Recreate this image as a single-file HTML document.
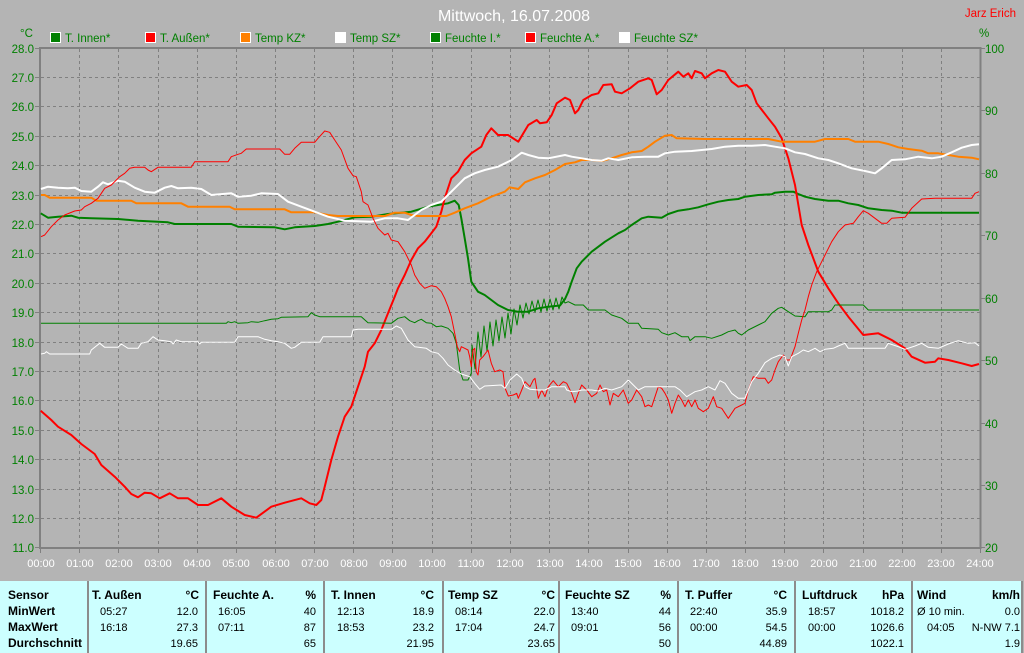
<!DOCTYPE html>
<html><head><meta charset="utf-8"><style>
html,body{margin:0;padding:0;background:#b4b4b4;}
body{width:1024px;height:653px;overflow:hidden;}
svg{display:block;font-family:"Liberation Sans",Arial,sans-serif;}
</style></head><body>
<svg width="1024" height="653" viewBox="0 0 1024 653" xmlns="http://www.w3.org/2000/svg">
<rect x="0" y="0" width="1024" height="653" fill="#b4b4b4"/>
<!-- title -->
<text x="514" y="21" font-size="16" fill="#ffffff" text-anchor="middle">Mittwoch, 16.07.2008</text>
<text x="1016" y="17" font-size="11.5" fill="#ff0000" text-anchor="end">Jarz Erich</text>
<!-- legend -->
<g font-size="11.5" fill="#008000">
<text x="20" y="37">°C</text>
<text x="979" y="37">%</text>
<rect x="50.5" y="32.5" width="10" height="10" fill="#008000" stroke="#fff" stroke-width="1"/><text x="65" y="42">T. Innen*</text>
<rect x="145.5" y="32.5" width="10" height="10" fill="#ff0000" stroke="#fff" stroke-width="1"/><text x="160" y="42">T. Außen*</text>
<rect x="240.5" y="32.5" width="10" height="10" fill="#ff8000" stroke="#fff" stroke-width="1"/><text x="255" y="42">Temp KZ*</text>
<rect x="335.5" y="32.5" width="10" height="10" fill="#ffffff" stroke="#fff" stroke-width="1"/><text x="350" y="42">Temp SZ*</text>
<rect x="430.5" y="32.5" width="10" height="10" fill="#008000" stroke="#fff" stroke-width="1"/><text x="445" y="42">Feuchte I.*</text>
<rect x="525.5" y="32.5" width="10" height="10" fill="#ff0000" stroke="#fff" stroke-width="1"/><text x="540" y="42">Feuchte A.*</text>
<rect x="619.5" y="32.5" width="10" height="10" fill="#ffffff" stroke="#fff" stroke-width="1"/><text x="634" y="42">Feuchte SZ*</text>
</g>
<!-- grid -->
<g stroke="#808080" stroke-width="1" stroke-dasharray="3,3" shape-rendering="crispEdges">
<line x1="79.5" y1="49" x2="79.5" y2="547"/><line x1="118.5" y1="49" x2="118.5" y2="547"/><line x1="158.5" y1="49" x2="158.5" y2="547"/><line x1="197.5" y1="49" x2="197.5" y2="547"/><line x1="236.5" y1="49" x2="236.5" y2="547"/><line x1="275.5" y1="49" x2="275.5" y2="547"/><line x1="314.5" y1="49" x2="314.5" y2="547"/><line x1="353.5" y1="49" x2="353.5" y2="547"/><line x1="392.5" y1="49" x2="392.5" y2="547"/><line x1="432.5" y1="49" x2="432.5" y2="547"/><line x1="471.5" y1="49" x2="471.5" y2="547"/><line x1="510.5" y1="49" x2="510.5" y2="547"/><line x1="549.5" y1="49" x2="549.5" y2="547"/><line x1="588.5" y1="49" x2="588.5" y2="547"/><line x1="628.5" y1="49" x2="628.5" y2="547"/><line x1="667.5" y1="49" x2="667.5" y2="547"/><line x1="706.5" y1="49" x2="706.5" y2="547"/><line x1="745.5" y1="49" x2="745.5" y2="547"/><line x1="784.5" y1="49" x2="784.5" y2="547"/><line x1="823.5" y1="49" x2="823.5" y2="547"/><line x1="863.5" y1="49" x2="863.5" y2="547"/><line x1="902.5" y1="49" x2="902.5" y2="547"/><line x1="941.5" y1="49" x2="941.5" y2="547"/>
<line x1="41" y1="77.5" x2="980" y2="77.5"/><line x1="41" y1="106.5" x2="980" y2="106.5"/><line x1="41" y1="136.5" x2="980" y2="136.5"/><line x1="41" y1="165.5" x2="980" y2="165.5"/><line x1="41" y1="195.5" x2="980" y2="195.5"/><line x1="41" y1="224.5" x2="980" y2="224.5"/><line x1="41" y1="253.5" x2="980" y2="253.5"/><line x1="41" y1="283.5" x2="980" y2="283.5"/><line x1="41" y1="312.5" x2="980" y2="312.5"/><line x1="41" y1="342.5" x2="980" y2="342.5"/><line x1="41" y1="371.5" x2="980" y2="371.5"/><line x1="41" y1="400.5" x2="980" y2="400.5"/><line x1="41" y1="430.5" x2="980" y2="430.5"/><line x1="41" y1="459.5" x2="980" y2="459.5"/><line x1="41" y1="489.5" x2="980" y2="489.5"/><line x1="41" y1="518.5" x2="980" y2="518.5"/>
</g>
<!-- axes box -->
<rect x="40" y="48" width="940.5" height="500" fill="none" stroke="#808080" stroke-width="2"/>
<!-- ticks -->
<g stroke="#808080" stroke-width="1" shape-rendering="crispEdges">
<line x1="35" y1="48.5" x2="40" y2="48.5"/><line x1="35" y1="77.5" x2="40" y2="77.5"/><line x1="35" y1="106.5" x2="40" y2="106.5"/><line x1="35" y1="136.5" x2="40" y2="136.5"/><line x1="35" y1="165.5" x2="40" y2="165.5"/><line x1="35" y1="195.5" x2="40" y2="195.5"/><line x1="35" y1="224.5" x2="40" y2="224.5"/><line x1="35" y1="253.5" x2="40" y2="253.5"/><line x1="35" y1="283.5" x2="40" y2="283.5"/><line x1="35" y1="312.5" x2="40" y2="312.5"/><line x1="35" y1="342.5" x2="40" y2="342.5"/><line x1="35" y1="371.5" x2="40" y2="371.5"/><line x1="35" y1="400.5" x2="40" y2="400.5"/><line x1="35" y1="430.5" x2="40" y2="430.5"/><line x1="35" y1="459.5" x2="40" y2="459.5"/><line x1="35" y1="489.5" x2="40" y2="489.5"/><line x1="35" y1="518.5" x2="40" y2="518.5"/><line x1="35" y1="547.5" x2="40" y2="547.5"/>
<line x1="981" y1="48.5" x2="985" y2="48.5"/><line x1="981" y1="110.5" x2="985" y2="110.5"/><line x1="981" y1="173.5" x2="985" y2="173.5"/><line x1="981" y1="235.5" x2="985" y2="235.5"/><line x1="981" y1="298.5" x2="985" y2="298.5"/><line x1="981" y1="360.5" x2="985" y2="360.5"/><line x1="981" y1="423.5" x2="985" y2="423.5"/><line x1="981" y1="485.5" x2="985" y2="485.5"/><line x1="981" y1="547.5" x2="985" y2="547.5"/>
<line x1="40.5" y1="549" x2="40.5" y2="553"/><line x1="79.5" y1="549" x2="79.5" y2="553"/><line x1="118.5" y1="549" x2="118.5" y2="553"/><line x1="158.5" y1="549" x2="158.5" y2="553"/><line x1="197.5" y1="549" x2="197.5" y2="553"/><line x1="236.5" y1="549" x2="236.5" y2="553"/><line x1="275.5" y1="549" x2="275.5" y2="553"/><line x1="314.5" y1="549" x2="314.5" y2="553"/><line x1="353.5" y1="549" x2="353.5" y2="553"/><line x1="392.5" y1="549" x2="392.5" y2="553"/><line x1="432.5" y1="549" x2="432.5" y2="553"/><line x1="471.5" y1="549" x2="471.5" y2="553"/><line x1="510.5" y1="549" x2="510.5" y2="553"/><line x1="549.5" y1="549" x2="549.5" y2="553"/><line x1="588.5" y1="549" x2="588.5" y2="553"/><line x1="628.5" y1="549" x2="628.5" y2="553"/><line x1="667.5" y1="549" x2="667.5" y2="553"/><line x1="706.5" y1="549" x2="706.5" y2="553"/><line x1="745.5" y1="549" x2="745.5" y2="553"/><line x1="784.5" y1="549" x2="784.5" y2="553"/><line x1="823.5" y1="549" x2="823.5" y2="553"/><line x1="863.5" y1="549" x2="863.5" y2="553"/><line x1="902.5" y1="549" x2="902.5" y2="553"/><line x1="941.5" y1="549" x2="941.5" y2="553"/><line x1="980.5" y1="549" x2="980.5" y2="553"/>
</g>
<!-- left labels -->
<g font-size="11.5" fill="#008000" text-anchor="end">
<text x="34" y="53">28.0</text><text x="34" y="82">27.0</text><text x="34" y="111">26.0</text><text x="34" y="141">25.0</text><text x="34" y="170">24.0</text><text x="34" y="200">23.0</text><text x="34" y="229">22.0</text><text x="34" y="258">21.0</text><text x="34" y="288">20.0</text><text x="34" y="317">19.0</text><text x="34" y="347">18.0</text><text x="34" y="376">17.0</text><text x="34" y="405">16.0</text><text x="34" y="435">15.0</text><text x="34" y="464">14.0</text><text x="34" y="494">13.0</text><text x="34" y="523">12.0</text><text x="34" y="552">11.0</text>
</g>
<!-- right labels -->
<g font-size="11.5" fill="#008000">
<text x="985" y="53">100</text><text x="985" y="115">90</text><text x="985" y="178">80</text><text x="985" y="240">70</text><text x="985" y="303">60</text><text x="985" y="365">50</text><text x="985" y="428">40</text><text x="985" y="490">30</text><text x="985" y="552">20</text>
</g>
<!-- x labels -->
<g font-size="11" fill="#ffffff" text-anchor="middle">
<text x="41" y="567">00:00</text><text x="80" y="567">01:00</text><text x="119" y="567">02:00</text><text x="158" y="567">03:00</text><text x="197" y="567">04:00</text><text x="236" y="567">05:00</text><text x="276" y="567">06:00</text><text x="315" y="567">07:00</text><text x="354" y="567">08:00</text><text x="393" y="567">09:00</text><text x="432" y="567">10:00</text><text x="471" y="567">11:00</text><text x="510" y="567">12:00</text><text x="550" y="567">13:00</text><text x="589" y="567">14:00</text><text x="628" y="567">15:00</text><text x="667" y="567">16:00</text><text x="706" y="567">17:00</text><text x="745" y="567">18:00</text><text x="785" y="567">19:00</text><text x="824" y="567">20:00</text><text x="863" y="567">21:00</text><text x="902" y="567">22:00</text><text x="941" y="567">23:00</text><text x="980" y="567">24:00</text>
</g>
<!-- series -->
<g fill="none" stroke-linejoin="round">
<!-- T. Innen -->
<polyline stroke="#008000" stroke-width="2" points="40.7,213.3 48,217.7 58,216.7 71.3,215.7 78,217.7 91.3,218.3 118,219 138,220.7 168,222.3 174.7,224 231.3,224 238,226.7 274.7,227.3 284.7,229.3 294.7,227.3 314.7,226 328,224 338,221.7 354.7,217.3 371.3,216.7 388,214 411.3,211.7 428,206.7 438,205 448,203.3 454.7,200.7 458.7,205 461.3,218.3 464.7,238.3 468,258.3 471.3,281.7 478,291.7 484.7,295 498,305 508,310 518,311.7 528,311.7 538.3,308.3 548,306.7 560,305.5 565,299 568.3,291.7 571.7,281.7 576.7,268.3 581.7,261.7 591.7,251.7 605,241.7 618.3,233.3 625,230 631.7,225 641.7,218.3 648.3,216.7 661.7,217.7 668.3,214 678.3,210.7 688.3,209.3 698.3,207.3 708.3,204.3 718.3,201.7 728.3,200 738.3,199 745,196.7 758.3,195 771.7,194.3 775,192.7 785,191.7 793.3,191.7 798.3,194 805,196.7 815,199 828.3,200.7 838.3,200.7 848.3,203.3 858.3,205 868.3,208.3 881.7,210 891.7,210.7 901.7,212.7 915,212.7 979,212.7"/>
<!-- T. Aussen -->
<polyline stroke="#ff0000" stroke-width="2" points="40.7,410.7 51.3,420 58,426.7 71.3,435 81.3,444 94.7,454 101.3,465 114.7,476.7 124.7,486.7 131.3,494 138,497.3 144.7,492.7 151.3,493.3 159.7,498.3 169.7,493.3 178,498.3 188,498.3 198,505 208,505 221.3,498.3 231.3,506.7 244.7,515 256.3,517.7 271.3,506.7 284.7,502.7 301.3,498.3 309.7,503.3 316.3,505 321.3,500 324.7,486.7 331.3,460 338,436.7 344.7,416.7 351.3,406.7 358,386.7 364.7,366.7 368,351.7 374.7,343.3 381.3,330 388,313.3 394.7,296.7 398,288.3 404.7,275 411.3,260 418,248.3 424.7,241.7 431.3,233.3 436.3,226.7 441.3,211.7 444.7,198.3 451.3,178.3 458,171.7 464.7,160 471.3,153.3 481.3,146.7 486.3,135 491.3,128.3 498,135 508,135 518.3,141.7 528.3,125 536.7,120 540,123.3 546.7,122.3 551.7,115 556.7,103.3 565,97.7 570,100 575,113.3 578.3,110 583.3,100 591.7,95 598.3,93.3 603.3,85 611.7,84.3 615,91.7 621.7,93.3 630,88.3 638.3,81.7 648.3,78.3 651.7,80 656.7,94.3 661.7,90 668.3,80 678.3,71.7 683.3,76.7 688.3,73.3 691.7,78.3 695,71 701.7,73.3 705,78.3 711.7,73.3 718.3,70 725,71.7 731.7,81.7 738.3,86.7 746.7,85 751.7,90 756.7,103.3 768.3,118.3 775,126.7 781.7,138.3 788.3,158.3 795,185 801.7,225 808.3,245 818.3,271.7 828.3,288.3 838.3,303.3 848.3,316.7 863.3,335 878.3,333.3 891.7,340 905,348.3 911.7,356.7 925,362.7 935,361.7 938.3,358.3 948.3,360 961.7,363.3 971.7,366 979,364"/>
<!-- Temp KZ -->
<polyline stroke="#ff8000" stroke-width="2" points="41,195 44.7,195 49.7,197.7 91.3,197.7 96.3,200.7 131.3,200.7 136.3,203.3 181.3,203.3 188,206.7 229.7,206.7 234.7,209.3 284.7,209.3 291.3,212.3 314.7,212.3 328,215 338,216 384.7,216 394.7,212.7 404.7,212.7 411.3,215 418,216 446.3,216 454.7,212.7 464.7,208.3 478,203.3 491.3,196.7 504.7,191.7 509.7,187.3 518.3,189 525,182.3 535,178.3 545,175 555,170 565,164 575,162.3 581.7,160 591.7,160 601.7,161 611.7,158.3 621.7,155 631.7,152.3 641.7,151 648.3,146.7 655,141.7 665,135.7 671.7,135 676.7,138.3 705,139 738.3,139 768.3,139 781.7,141.7 805,141.7 815,141.7 825,139 848.3,139 855,141.7 878.3,141.7 888.3,144 898.3,147.3 908.3,149 921.7,150.7 928.3,153.3 938.3,153.3 948.3,155 958.3,156.7 971.7,157.7 979,159.3"/>
<!-- Temp SZ -->
<polyline stroke="#ffffff" stroke-width="2" points="41,189 48,186.7 58,187.7 68,188.3 74.7,187.7 81.3,191 91.3,191.7 98,186.7 103,182.3 108,184.3 118,180.7 124.7,181.7 134.7,187.7 144.7,191.7 154.7,192.7 164.7,187.7 171.3,186 178,188.3 191.3,187.7 201.3,189 211.3,195 231.3,193.3 238,196.7 251.3,195.7 261.3,193.3 278,194 288,201.7 301.3,206.7 314.7,211.7 328,216.7 344.7,220.7 371.3,221.7 384.7,218.3 398,218.3 408,220 421.3,210 431.3,205 441.3,201.7 451.3,191.7 464.7,178.3 474.7,173.3 484.7,170 498,166.7 505,163.3 511.7,160 521.7,152.7 528.3,155 538.3,157.7 548.3,158.3 565,155 571.7,156.7 581.7,158.3 591.7,160 601.7,160.7 608.3,158.3 618.3,160 631.7,157.3 645,156.7 658.3,156.7 665,153.3 675,151.7 691.7,151 711.7,149 725,146.7 738.3,145.7 751.7,145.7 765,145 775,146.7 785,148.3 795,152.3 805,154 818.3,158.3 828.3,160 838.3,163.3 851.7,168.3 865,171 875,173.3 881.7,168.3 891.7,160 905,159.3 918.3,156.7 931.7,158.3 941.7,156.7 951.7,152.3 961.7,147.7 971.7,145 979,144.3"/>
<!-- Feuchte I. -->
<polyline stroke="#008000" stroke-width="1" points="41,323.3 226.3,323.3 228,321.7 231.3,322.7 234.7,321.7 238,323.3 248,322.7 251.3,321.7 258,322.3 264.7,320.7 271.3,319.3 278,318.7 281.3,317.3 308,316.7 311.3,312.7 314.7,315 319.7,316.7 361.3,316.7 368,322.7 391.3,323.3 398,318.3 404.7,316.7 409.7,320.7 414.7,322.7 418,320.7 421.3,319.3 426.3,322.7 431.3,323.3 436.3,326.7 441.3,326 448,328.3 453,333.3 456.3,343.3 458,356.7 459.7,370 463,380 468,380 471.3,373.3 472,345 475,369 478,332 481,357 484,326 487,351 490,322 493,346 496,320 499,341 502,317 505,338 508,313 511,334 514,309 517,325 520,305 523,318 526,303 529,314 532,301 535,312 538,300 541,312 544,299 547,311 550,299 553,310 556,298 559,309 562,297 565,303 568.3,301.7 575,305 583.3,305 588.3,310 605,310 611.7,315 621.7,318.3 628.3,323.3 638.3,323.3 641.7,328.3 658.3,329.3 661.7,332.7 668.3,335 675,332.7 681.7,336.7 688.3,336.7 690,340.7 695,336.7 705,336.7 711.7,338.3 721.7,335 728.3,331.7 735,330 738.3,333.3 741.7,335 748.3,330 758.3,325 765,321.7 771.7,313.3 778.3,308.3 781.7,307.3 788.3,311.7 795,316 805,316.7 808.3,311.7 828.3,311.7 831.7,310 835,305 863.3,305 868.3,310 979,310"/>
<!-- Feuchte A. -->
<polyline stroke="#ff0000" stroke-width="1" points="41,236.7 44.7,235 51.3,226.7 58,220 64.7,215 74.7,211 81.3,210 84.7,206.7 91.3,203.3 98,198.3 104.7,188.3 111.3,185 119.7,176.7 124.7,173.3 129.7,168.3 134.7,167.3 144.7,167.3 148,170 151.3,171.7 158,167.3 191.3,167.3 194.7,161.7 228,161.7 231.3,156.7 238,154.3 241.3,153.3 246.3,149 279.7,149 284.7,154.3 289.7,154.3 294.7,148.3 301.3,142.3 314.7,142.3 318,138.3 324.7,131 329.7,132.3 334.7,140 341.3,150 348,168.3 353,175.7 356.3,176.7 361.3,191.7 363,201.7 368,205 373,218.3 378,228.3 384.7,235 388,233.3 391.3,240 398,241.7 404.7,251.7 411.3,265 414.7,275 419.7,283.3 424.7,288.3 431.3,285.7 436.3,286.7 441.3,291.7 444.7,298.3 448,306.7 451.3,316.7 454.7,333.3 457.3,346.7 459.7,351.7 461.3,346.7 464.7,348.3 468,350 469.7,356.7 471.3,366.7 473,350 474.7,348.3 476.3,371.7 478,375 479.7,360 483,356.7 488,350 491.3,363.3 494.7,371.7 499.7,370 503,371.7 505,388 508.3,396 513.3,395 516.7,393.3 518.3,398.3 521.7,390 525,381.7 530,386.7 533.3,380 535,378.3 538.3,398.3 541.7,390 545,396.7 548.3,386.7 553.3,380.7 558.3,386.7 563.3,381.7 566.7,383.3 571.7,393.3 575,402.7 578.3,393.3 581.7,385 586.7,390 591.7,396.7 596.7,393.3 600,385 603.3,391.7 606.7,390 610,405 613.3,393.3 618.3,396.7 623.3,390 628.3,403.3 631.7,400 636.7,390 641.7,396.7 645,406.7 648.3,405 651.7,406.7 658.3,386.7 661.7,388.3 665,393.3 668.3,400 671.7,413.3 675,403.3 678.3,395 681.7,400 685,406.7 688.3,400 691.7,406.7 695,400 698.3,408.3 703.3,411.7 708.3,408.3 713.3,396.7 716.7,406.7 721.7,408.3 728.3,418.3 735,408.3 741.7,405 745,403.3 748.3,390 753.3,376.7 758.3,378.3 765,378.3 768.3,383.3 771.7,380 775,370 778.3,361.7 783.3,355 786.7,360 790,360 795,346.7 798.3,333.3 801.7,320 805,310 808.3,296.7 811.7,285 816.7,271.7 821.7,261.7 826.7,251.7 831.7,241.7 838.3,231.7 845,225 853.3,223.3 858.3,216.7 863.3,210.7 868.3,213.3 875,218.3 881.7,223.3 886.7,223.3 891.7,218.3 905,217.3 911.7,208.3 921.7,199 935,198.3 971.7,198.3 975,193.3 979,191.7"/>
<!-- Feuchte SZ -->
<polyline stroke="#ffffff" stroke-width="1" points="41,354 44.7,353.3 46.3,351.7 49.7,354 89.7,354 91.3,350 96.3,346 99.7,343.3 104.7,347.3 118,347.3 121.3,344 128,348.3 138,348.3 141.3,343.3 148,341.7 153,336.7 158,340 164.7,340.7 171.3,341.7 173,344 176.3,340 181.3,341.7 198,341.7 199.7,344 201.3,342.3 234.7,342.3 238,336.7 258,336.7 264.7,339.3 271.3,340.7 278,341.7 284.7,343.3 291.3,348.3 294.7,347.3 301.3,342.3 319.7,342.3 323,336.7 351.3,336.7 353,330 358,329.3 391.3,329.3 396.3,326 401.3,328.3 408,340 414.7,346.7 426.3,348.3 431.3,351.7 438,353.3 443,358.3 448,365 454.7,370 461.3,374 469.7,376.7 474.7,383.3 479.7,389.3 484.7,386 501.3,385 505,388.3 510,380 516.7,374 521.7,378.3 525,386.7 530,389.3 538.3,390 545,390 551.7,386.7 565,386.7 566.7,390 571.7,391.7 578.3,391 581.7,390 591.7,390 598.3,391 605,388.3 611.7,390 621.7,386.7 628.3,380 633.3,385 638.3,390 645,386.7 675,386.7 680,390 686.7,396.7 695,391.7 701.7,390 708.3,386.7 715,390 720,380.7 725,383.3 731.7,393.3 738.3,398.3 745,398.3 751.7,381.7 758.3,373.3 765,362.7 771.7,358.3 780,355 785,356.7 788.3,366 791.7,356.7 798.3,353.3 803.3,350 808.3,351.7 815,348.3 820,351.7 825,349.3 833.3,348.3 838.3,346 845,343.3 848.3,348.3 885,348.3 888.3,343.3 898.3,346.7 905,349.3 915,346 921.7,343.3 928.3,347.3 938.3,348.3 948.3,344 958.3,340.7 968.3,343.3 975,342.7 979,346"/>
</g>
<!-- table -->
<rect x="0" y="581" width="1022" height="72" fill="#ccffff"/>
<g fill="#8c8c8c" shape-rendering="crispEdges">
<rect x="87" y="581" width="2" height="72"/><rect x="205" y="581" width="2" height="72"/><rect x="323" y="581" width="2" height="72"/><rect x="442" y="581" width="2" height="72"/><rect x="558" y="581" width="2" height="72"/><rect x="677" y="581" width="2" height="72"/><rect x="794" y="581" width="2" height="72"/><rect x="911" y="581" width="2" height="72"/><rect x="1021" y="581" width="2" height="72"/>
</g>
<g font-size="12" font-weight="bold" fill="#000">
<text x="8" y="599">Sensor</text><text x="8" y="615">MinWert</text><text x="8" y="631">MaxWert</text><text x="8" y="647">Durchschnitt</text>
<text x="92" y="599">T. Außen</text><text x="199" y="599" text-anchor="end">°C</text>
<text x="213" y="599">Feuchte A.</text><text x="316" y="599" text-anchor="end">%</text>
<text x="331" y="599">T. Innen</text><text x="434" y="599" text-anchor="end">°C</text>
<text x="448" y="599">Temp SZ</text><text x="555" y="599" text-anchor="end">°C</text>
<text x="565" y="599">Feuchte SZ</text><text x="671" y="599" text-anchor="end">%</text>
<text x="685" y="599">T. Puffer</text><text x="787" y="599" text-anchor="end">°C</text>
<text x="802" y="599">Luftdruck</text><text x="904" y="599" text-anchor="end">hPa</text>
<text x="917" y="599">Wind</text><text x="1020" y="599" text-anchor="end">km/h</text>
</g>
<g font-size="11" fill="#000">
<text x="100" y="615">05:27</text><text x="198" y="615" text-anchor="end">12.0</text>
<text x="100" y="631">16:18</text><text x="198" y="631" text-anchor="end">27.3</text>
<text x="198" y="647" text-anchor="end">19.65</text>
<text x="218" y="615">16:05</text><text x="316" y="615" text-anchor="end">40</text>
<text x="218" y="631">07:11</text><text x="316" y="631" text-anchor="end">87</text>
<text x="316" y="647" text-anchor="end">65</text>
<text x="337" y="615">12:13</text><text x="434" y="615" text-anchor="end">18.9</text>
<text x="337" y="631">18:53</text><text x="434" y="631" text-anchor="end">23.2</text>
<text x="434" y="647" text-anchor="end">21.95</text>
<text x="455" y="615">08:14</text><text x="555" y="615" text-anchor="end">22.0</text>
<text x="455" y="631">17:04</text><text x="555" y="631" text-anchor="end">24.7</text>
<text x="555" y="647" text-anchor="end">23.65</text>
<text x="571" y="615">13:40</text><text x="671" y="615" text-anchor="end">44</text>
<text x="571" y="631">09:01</text><text x="671" y="631" text-anchor="end">56</text>
<text x="671" y="647" text-anchor="end">50</text>
<text x="690" y="615">22:40</text><text x="787" y="615" text-anchor="end">35.9</text>
<text x="690" y="631">00:00</text><text x="787" y="631" text-anchor="end">54.5</text>
<text x="787" y="647" text-anchor="end">44.89</text>
<text x="808" y="615">18:57</text><text x="904" y="615" text-anchor="end">1018.2</text>
<text x="808" y="631">00:00</text><text x="904" y="631" text-anchor="end">1026.6</text>
<text x="904" y="647" text-anchor="end">1022.1</text>
<text x="917" y="615">Ø 10 min.</text><text x="1020" y="615" text-anchor="end">0.0</text>
<text x="927" y="631">04:05</text><text x="1020" y="631" text-anchor="end">N-NW 7.1</text>
<text x="1020" y="647" text-anchor="end">1.9</text>
</g>
</svg>
</body></html>
